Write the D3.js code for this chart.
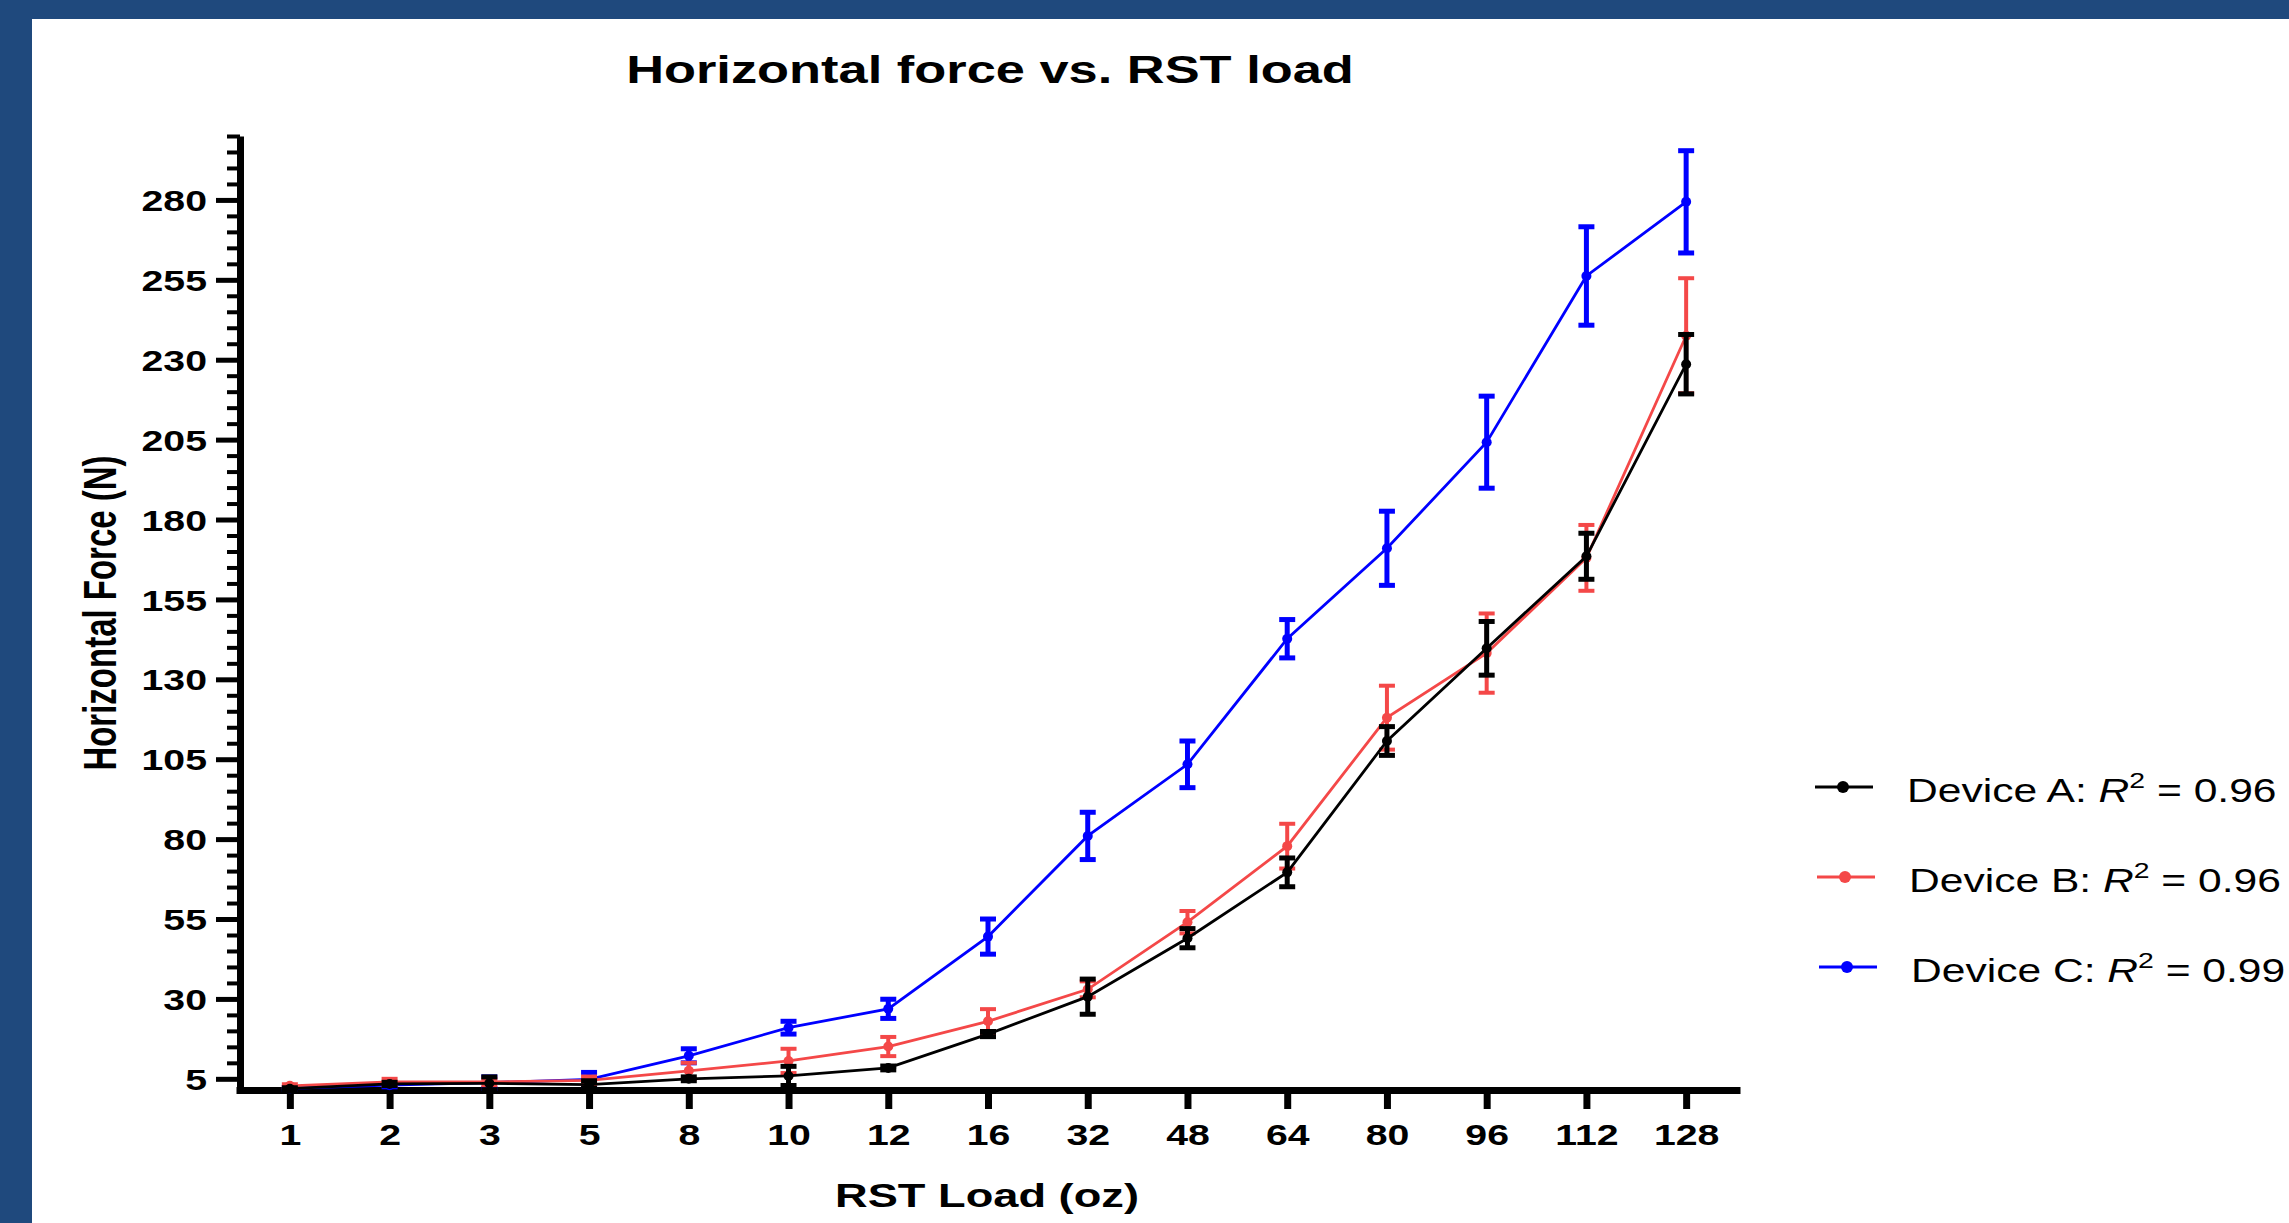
<!DOCTYPE html>
<html>
<head>
<meta charset="utf-8">
<script src="https://cdn.jsdelivr.net/npm/d3@7"></script>
<style>
  html, body { margin: 0; padding: 0; background: #1f497d; overflow: hidden; }
  svg { display: block; }
</style>
</head>
<body>
<svg id="chart"></svg>
<script>
// RST load categories (oz)
const loads = ["1", "2", "3", "5", "8", "10", "12", "16", "32", "48", "64", "80", "96", "112", "128"];

// mean horizontal force (N) and error per device
const deviceA = [1.9, 3.4, 3.6, 3.2, 5.0, 5.9, 8.4, 19, 30.7, 49, 69.6, 110.7, 139.7, 168.5, 228.6];
const deviceA_err = [0.3, 0.5, 2.0, 1.2, 0.6, 3.0, 0.6, 0.8, 5.5, 3.0, 4.5, 4.5, 8.4, 7.2, 9.3];
const deviceB = [2.8, 4.0, 4.0, 4.5, 7.5, 10.6, 15.1, 23, 33, 54, 77.8, 118, 138.2, 168, 237.5];
const deviceB_err = [0.5, 1.0, 1.0, 1.2, 2.5, 3.8, 3.0, 3.8, 2.5, 3.5, 7.0, 10, 12.4, 10.3, 18];
const deviceC = [2.0, 3.0, 3.8, 4.8, 12.2, 21, 26.9, 49.5, 81, 103.4, 142.7, 171, 204.2, 256.2, 279.4];
const deviceC_err = [0.3, 0.5, 1.8, 2.2, 2.2, 2.0, 3.0, 5.5, 7.4, 7.3, 6.0, 11.6, 14.4, 15.4, 16];

const legendLabels = ["Device A:", "Device B:", "Device C:"];
const r2Values = ["0.96", "0.96", "0.99"];

const yMajor = [5, 30, 55, 80, 105, 130, 155, 180, 205, 230, 255, 280];

const width = 2289, height = 1223;
const stretch = 1.33; // the original figure is stretched sideways

const svg = d3.select("#chart").attr("width", width).attr("height", height);

// blue frame, white panel
svg.append("rect").attr("width", width).attr("height", height).attr("fill", "#1f497d");
svg.append("rect").attr("x", 32).attr("y", 19).attr("width", width - 32).attr("height", height - 19).attr("fill", "#fff");

const x = d3.scalePoint().domain(loads).range([236, 1740]).padding(0.54);
const y = d3.scaleLinear().domain([1.5, 300]).range([1090, 136]);

const font = "'Liberation Sans', Arial, sans-serif";

// minor y ticks
const yMinor = d3.range(5, 301, 5).filter(v => !yMajor.includes(v));
svg.append("g")
    .attr("transform", "translate(240,0)")
    .call(d3.axisLeft(y).tickValues(yMinor).tickSize(13).tickSizeOuter(0).tickFormat(""))
    .call(g => g.select(".domain").remove())
    .call(g => g.selectAll(".tick line").attr("stroke", "#000").attr("stroke-width", 4));

// major y axis
svg.append("g")
    .attr("transform", "translate(240,0)")
    .call(d3.axisLeft(y).tickValues(yMajor).tickSize(24).tickSizeOuter(0).tickPadding(9))
    .call(g => g.select(".domain").attr("stroke", "#000").attr("stroke-width", 7))
    .call(g => g.selectAll(".tick line").attr("stroke", "#000").attr("stroke-width", 5))
    .call(g => g.selectAll(".tick text")
        .attr("x", null).attr("dy", "0.36em")
        .attr("transform", `translate(-33,0) scale(${stretch},1)`)
        .attr("font-family", font).attr("font-weight", "bold")
        .attr("font-size", 29.5).attr("fill", "#000"));

// x axis
svg.append("g")
    .attr("transform", "translate(0,1090)")
    .call(d3.axisBottom(x).tickSize(19).tickSizeOuter(0).tickPadding(0))
    .call(g => g.select(".domain").attr("stroke", "#000").attr("stroke-width", 7))
    .call(g => g.selectAll(".tick line").attr("stroke", "#000").attr("stroke-width", 7))
    .call(g => g.selectAll(".tick text")
        .attr("y", null).attr("dy", null)
        .attr("transform", `translate(0,55) scale(${stretch},1)`)
        .attr("font-family", font).attr("font-weight", "bold")
        .attr("font-size", 29.5).attr("fill", "#000"));

const series = [
    { name: "C", values: deviceC, err: deviceC_err, color: "#0000ff", barWidth: 5 },
    { name: "B", values: deviceB, err: deviceB_err, color: "#f44848", barWidth: 4 },
    { name: "A", values: deviceA, err: deviceA_err, color: "#000000", barWidth: 5 }
];

const line = d3.line()
    .x((d, i) => x(loads[i]))
    .y(d => y(d));

const capHalf = 8;

series.forEach(s => {
    const g = svg.append("g");
    g.append("path")
        .datum(s.values)
        .attr("d", line)
        .attr("fill", "none")
        .attr("stroke", s.color)
        .attr("stroke-width", 2.8);

    const bars = g.selectAll(".err")
        .data(s.values.map((v, i) => ({ load: loads[i], v: v, e: s.err[i] })))
        .join("g")
        .attr("stroke", s.color)
        .attr("stroke-width", s.barWidth);
    bars.append("line")
        .attr("x1", d => x(d.load)).attr("x2", d => x(d.load))
        .attr("y1", d => y(Math.max(d.v - d.e, 1.5))).attr("y2", d => y(d.v + d.e));
    bars.append("line")
        .attr("x1", d => x(d.load) - capHalf).attr("x2", d => x(d.load) + capHalf)
        .attr("y1", d => y(d.v + d.e)).attr("y2", d => y(d.v + d.e));
    bars.filter(d => d.v - d.e > 1.5).append("line")
        .attr("x1", d => x(d.load) - capHalf).attr("x2", d => x(d.load) + capHalf)
        .attr("y1", d => y(d.v - d.e)).attr("y2", d => y(d.v - d.e));

    g.selectAll("circle")
        .data(s.values)
        .join("circle")
        .attr("cx", (d, i) => x(loads[i]))
        .attr("cy", d => y(d))
        .attr("r", 5)
        .attr("fill", s.color);
});

// title
svg.append("text")
    .attr("transform", `translate(990,83) scale(${stretch},1)`)
    .attr("text-anchor", "middle")
    .attr("font-family", font).attr("font-weight", "bold").attr("font-size", 39.4)
    .text("Horizontal force vs. RST load");

// axis titles
svg.append("text")
    .attr("transform", `translate(987,1207) scale(${stretch},1)`)
    .attr("text-anchor", "middle")
    .attr("font-family", font).attr("font-weight", "bold").attr("font-size", 34)
    .text("RST Load (oz)");

svg.append("text")
    .attr("transform", `translate(116,613) scale(${stretch + 0.05},1) rotate(-90)`)
    .attr("text-anchor", "middle")
    .attr("font-family", font).attr("font-weight", "bold").attr("font-size", 33)
    .text("Horizontal Force (N)");

// legend
const legendY = [787, 877, 967];
const legendColors = ["#000000", "#f44848", "#0000ff"];
legendLabels.forEach((lab, i) => {
    const lx = 1815 + i * 2;
    const g = svg.append("g").attr("transform", `translate(${lx},${legendY[i]})`);
    g.append("line").attr("x1", 0).attr("x2", 58).attr("y1", 0).attr("y2", 0)
        .attr("stroke", legendColors[i]).attr("stroke-width", 2.8);
    g.append("circle").attr("cx", 28).attr("cy", 0).attr("r", 6).attr("fill", legendColors[i]);
    const t = g.append("text")
        .attr("transform", `translate(92,15) scale(1.29,1)`)
        .attr("font-family", font).attr("font-size", 33).attr("fill", "#000");
    t.append("tspan").text(lab + " ");
    t.append("tspan").attr("font-style", "italic").text("R");
    t.append("tspan").attr("font-size", 22).attr("dy", -14).text("2");
    t.append("tspan").attr("dy", 14).text(" = " + r2Values[i]);
});
</script>
</body>
</html>
